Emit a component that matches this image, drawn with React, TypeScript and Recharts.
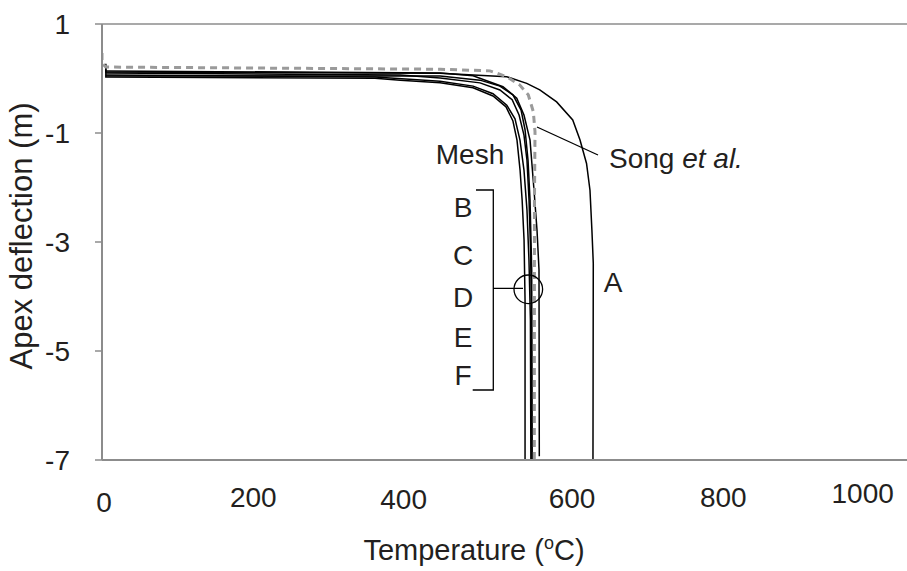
import { LineChart, Line, XAxis, YAxis, ReferenceLine } from "recharts";

const tempTicks = [0, 200, 400, 600, 800, 1000];
const deflectionTicks = [1, -1, -3, -5, -7];

// Mesh A (the coarse one, fails last)
const meshA = [
  { t: 5, d: 0.27 }, { t: 5, d: 0.12 }, { t: 441, d: 0.095 }, { t: 528, d: 0.033 },
  { t: 554, d: -0.09 }, { t: 571, d: -0.21 }, { t: 593, d: -0.43 }, { t: 614, d: -0.76 },
  { t: 623.5, d: -1.13 }, { t: 632, d: -1.56 }, { t: 636.5, d: -2.05 }, { t: 639, d: -2.78 },
  { t: 640.8, d: -3.39 }, { t: 640.4, d: -7 },
];
const meshB = [
  { t: 5, d: 0.22 }, { t: 5, d: 0.028 }, { t: 356, d: 0.004 }, { t: 389, d: -0.03 },
  { t: 441, d: -0.08 }, { t: 484, d: -0.17 }, { t: 510, d: -0.32 }, { t: 527, d: -0.52 },
  { t: 536, d: -0.78 }, { t: 541.3, d: -1.13 }, { t: 545.3, d: -1.68 }, { t: 548, d: -2.23 },
  { t: 550.5, d: -2.96 }, { t: 551.8, d: -4.06 }, { t: 551.8, d: -7 },
];
const meshC = [
  { t: 5, d: 0.064 }, { t: 356, d: 0.028 }, { t: 441, d: -0.05 }, { t: 484, d: -0.14 },
  { t: 510, d: -0.28 }, { t: 528, d: -0.49 }, { t: 538.7, d: -0.74 }, { t: 545.2, d: -1.13 },
  { t: 550.4, d: -1.68 }, { t: 554.3, d: -2.41 }, { t: 556.9, d: -3.33 }, { t: 558.8, d: -4.43 },
  { t: 559.4, d: -7 },
];
const meshD = [
  { t: 5, d: 0.1 }, { t: 389, d: 0.064 }, { t: 441, d: 0.009 }, { t: 493, d: -0.08 },
  { t: 519, d: -0.21 }, { t: 535, d: -0.39 }, { t: 544, d: -0.67 }, { t: 550.4, d: -1.04 },
  { t: 554.3, d: -1.5 }, { t: 557, d: -2.23 }, { t: 559, d: -3.15 }, { t: 560.2, d: -4.43 },
  { t: 560.9, d: -7 },
];
const meshE = [
  { t: 5, d: 0.046 }, { t: 441, d: 0.046 }, { t: 493, d: -0.03 }, { t: 519, d: -0.14 },
  { t: 536, d: -0.3 }, { t: 546.6, d: -0.58 }, { t: 551.8, d: -0.94 }, { t: 555.7, d: -1.5 },
  { t: 558.3, d: -2.23 }, { t: 560.5, d: -3.51 }, { t: 560.9, d: -7 },
];
const meshF = [
  { t: 5, d: 0.138 }, { t: 441, d: 0.101 }, { t: 484, d: 0.051 }, { t: 523, d: -0.15 },
  { t: 541, d: -0.36 }, { t: 550.4, d: -0.67 }, { t: 558.3, d: -1.13 }, { t: 563.5, d: -2.05 },
  { t: 567.4, d: -2.78 }, { t: 570, d: -3.51 }, { t: 570.4, d: -6.93 },
];
// Song et al. reference curve
const song = [
  { t: 0, d: 0.47 }, { t: 0, d: 0.28 }, { t: 5, d: 0.21 }, { t: 441, d: 0.17 },
  { t: 506, d: 0.14 }, { t: 528, d: 0.033 }, { t: 545, d: -0.12 }, { t: 556, d: -0.3 },
  { t: 562.6, d: -0.61 }, { t: 564.8, d: -0.98 }, { t: 564.1, d: -2.23 }, { t: 563.9, d: -7 },
];

const meshSeries = [meshA, meshB, meshC, meshD, meshE, meshF];

const font = "'Liberation Sans', Arial, sans-serif";
const ink = "#231f20";
const axisGrey = "#8c8c8c";
const fs = 28;

// hand-placed tick labels in the original
const tickNudge: Record<number, { dx: number; cy: number }> = {
  0: { dx: 2, cy: 502 },
  200: { dx: -2, cy: 497 },
  400: { dx: -5, cy: 499 },
  600: { dx: 10, cy: 498 },
  800: { dx: 8, cy: 497 },
  1000: { dx: -6, cy: 493 },
};

const TempTick = ({ x, payload }: any) => {
  const n = tickNudge[payload.value] || { dx: 0, cy: 497 };
  return (
    <text x={x + n.dx} y={n.cy + 10} textAnchor="middle" fontSize={fs} fill={ink} fontFamily={font}>
      {payload.value}
    </text>
  );
};

const DeflTick = ({ x, y, payload }: any) => (
  <text x={x} y={y + 10} textAnchor="end" fontSize={fs} fill={ink} fontFamily={font}>
    {payload.value}
  </text>
);

const meshLetters = [
  { k: "B", y: 217 },
  { k: "C", y: 265 },
  { k: "D", y: 307 },
  { k: "E", y: 347 },
  { k: "F", y: 385 },
];

export default function App() {
  return (
    <div style={{ position: "absolute", left: 0, top: 0, width: 907, height: 571, background: "#fff" }}>
      <LineChart width={907} height={571} margin={{ top: 24, right: 0, bottom: 0, left: 42 }}>
        <XAxis
          dataKey="t"
          type="number"
          domain={[0, 1050]}
          ticks={tempTicks}
          allowDataOverflow
          height={111}
          tickLine={false}
          axisLine={{ stroke: axisGrey, strokeWidth: 2 }}
          tick={<TempTick />}
        />
        <YAxis
          dataKey="d"
          type="number"
          domain={[-7, 1]}
          ticks={deflectionTicks}
          allowDataOverflow
          width={60}
          tickSize={7}
          tickMargin={25}
          tickLine={{ stroke: axisGrey, strokeWidth: 1.5 }}
          axisLine={{ stroke: axisGrey, strokeWidth: 2 }}
          tick={<DeflTick />}
        />
        <ReferenceLine y={1} stroke={axisGrey} strokeWidth={1.5} />
        {meshSeries.map((s, i) => (
          <Line
            key={i}
            data={s}
            dataKey="d"
            type="linear"
            stroke="#000"
            strokeWidth={1.5}
            dot={false}
            isAnimationActive={false}
          />
        ))}
        <Line
          data={song}
          dataKey="d"
          type="linear"
          stroke="#9a9a9a"
          strokeWidth={3}
          strokeDasharray="7 5"
          dot={false}
          isAnimationActive={false}
        />
      </LineChart>
      <svg
        width={907}
        height={571}
        style={{ position: "absolute", left: 0, top: 0, pointerEvents: "none" }}
        fontFamily={font}
      >
        <text x={21} y={236} transform="rotate(-90 21 236)" textAnchor="middle" dominantBaseline="central" fontSize={31} fill={ink}>
          Apex deflection (m)
        </text>
        <text x={474} y={560} textAnchor="middle" fontSize={29} fill={ink}>
          Temperature (<tspan fontSize={18} dy={-11}>o</tspan><tspan dy={11}>C)</tspan>
        </text>
        <text x={470} y={164} textAnchor="middle" fontSize={fs} fill={ink}>Mesh</text>
        <line x1={537} y1={127} x2={598} y2={155} stroke="#000" strokeWidth={1.3} />
        <text x={609} y={168} fontSize={fs} fill={ink}>
          Song <tspan fontStyle="italic">et al.</tspan>
        </text>
        <text x={613} y={292} textAnchor="middle" fontSize={fs} fill={ink}>A</text>
        {meshLetters.map((m) => (
          <text key={m.k} x={463} y={m.y} textAnchor="middle" fontSize={fs} fill={ink}>
            {m.k}
          </text>
        ))}
        <path d="M476,190 H493.3 V390 H472.7 M493.3,288.3 H523" fill="none" stroke="#000" strokeWidth={1.3} />
        <circle cx={528.3} cy={289.3} r={14.3} fill="none" stroke="#000" strokeWidth={1.3} />
      </svg>
    </div>
  );
}
